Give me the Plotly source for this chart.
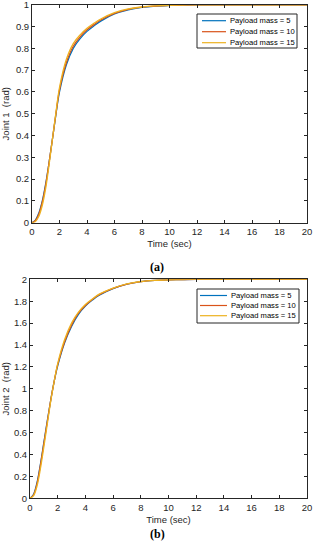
import plotly.graph_objects as go

# ---- data ----
t = [0, 0.25, 0.5, 0.75, 1, 1.25, 1.5, 1.75, 2, 2.5, 3, 3.5, 4, 4.5, 5, 6, 7, 8, 9, 10, 11, 12, 14, 16, 18, 20]

j1_m5  = [0, 0.012, 0.045, 0.10, 0.18, 0.28, 0.39, 0.50, 0.60, 0.725, 0.80, 0.845, 0.878, 0.903, 0.925, 0.958, 0.977, 0.988, 0.994, 0.997, 0.999, 1, 1, 1, 1, 1]
j1_m10 = [0, 0.010, 0.040, 0.095, 0.175, 0.28, 0.39, 0.505, 0.61, 0.735, 0.81, 0.853, 0.885, 0.909, 0.930, 0.961, 0.979, 0.989, 0.994, 0.997, 0.999, 1, 1, 1, 1, 1]
j1_m15 = [0, 0.006, 0.030, 0.080, 0.160, 0.27, 0.39, 0.51, 0.62, 0.75, 0.822, 0.862, 0.892, 0.915, 0.935, 0.964, 0.981, 0.990, 0.995, 0.998, 0.999, 1, 1, 1, 1, 1]

j2_m5  = [0, 0.035, 0.14, 0.31, 0.51, 0.71, 0.90, 1.07, 1.21, 1.42, 1.57, 1.68, 1.755, 1.81, 1.855, 1.915, 1.955, 1.978, 1.99, 1.995, 1.998, 2, 2, 2, 2, 2]
j2_m10 = [0, 0.030, 0.13, 0.30, 0.50, 0.70, 0.90, 1.07, 1.22, 1.43, 1.58, 1.69, 1.76, 1.815, 1.86, 1.918, 1.957, 1.979, 1.99, 1.995, 1.998, 2, 2, 2, 2, 2]
j2_m15 = [0, 0.022, 0.11, 0.27, 0.47, 0.68, 0.89, 1.07, 1.23, 1.45, 1.60, 1.70, 1.77, 1.82, 1.865, 1.92, 1.958, 1.98, 1.991, 1.996, 1.998, 2, 2, 2, 2, 2]

labels = ["Payload mass = 5", "Payload mass = 10", "Payload mass = 15"]
colors = ["#0072BD", "#D95319", "#EDB120"]
x_ticks = [0, 2, 4, 6, 8, 10, 12, 14, 16, 18, 20]
y1_ticks = [0, 0.1, 0.2, 0.3, 0.4, 0.5, 0.6, 0.7, 0.8, 0.9, 1]
y1_text = ["0", "0.1", "0.2", "0.3", "0.4", "0.5", "0.6", "0.7", "0.8", "0.9", "1"]
y2_ticks = [0, 0.2, 0.4, 0.6, 0.8, 1, 1.2, 1.4, 1.6, 1.8, 2]
y2_text = ["0", "0.2", "0.4", "0.6", "0.8", "1", "1.2", "1.4", "1.6", "1.8", "2"]

W, H = 314, 550
fig = go.Figure()

for ys, lab, c in zip([j1_m5, j1_m10, j1_m15], labels, colors):
    fig.add_trace(go.Scatter(x=t, y=ys, mode="lines", name=lab, line=dict(color=c, width=1.3, shape="spline"),
                             xaxis="x", yaxis="y", showlegend=False))
for ys, lab, c in zip([j2_m5, j2_m10, j2_m15], labels, colors):
    fig.add_trace(go.Scatter(x=t, y=ys, mode="lines", name=lab, line=dict(color=c, width=1.3, shape="spline"),
                             xaxis="x2", yaxis="y2", showlegend=False))

axcol = "#262626"
FONT = "Liberation Sans, Arial"
tickfont = dict(family=FONT, size=9.5, color=axcol)
common_x = dict(range=[0, 20], tickvals=x_ticks, showgrid=False, zeroline=False, showline=True, linecolor=axcol,
                linewidth=1, mirror="ticks", ticks="inside", ticklen=3, tickcolor=axcol, tickfont=tickfont,
                automargin=False, ticklabeloverflow="allow",
                title=dict(text="Time (sec)", font=dict(family=FONT, size=9.5, color=axcol), standoff=4))
common_y = dict(showgrid=False, zeroline=False, showline=True, linecolor=axcol, linewidth=1, mirror="ticks",
                ticks="inside", ticklen=3, tickcolor=axcol, tickfont=tickfont, automargin=False,
                ticklabeloverflow="allow")

top_dom = [(H - 222.7) / H, (H - 4.8) / H]
bot_dom = [(H - 498.3) / H, (H - 279.3) / H]

fig.update_layout(
    width=W, height=H, margin=dict(l=0, r=0, t=0, b=0),
    paper_bgcolor="white", plot_bgcolor="white", showlegend=False,
    xaxis=dict(domain=[32 / W, 307 / W], anchor="y", **common_x),
    yaxis=dict(domain=top_dom, anchor="x", range=[0, 1], tickvals=y1_ticks, ticktext=y1_text,
               title=dict(text="Joint 1  (rad)", font=dict(family=FONT, size=9.5, color=axcol)),
               **common_y),
    xaxis2=dict(domain=[30 / W, 307 / W], anchor="y2", **common_x),
    yaxis2=dict(domain=bot_dom, anchor="x2", range=[0, 2], tickvals=y2_ticks, ticktext=y2_text,
                title=dict(text="Joint 2  (rad)", font=dict(family=FONT, size=9.5, color=axcol)),
                **common_y),
)

# manual MATLAB-style legends (box, sample lines, labels) in pixel-derived paper coords
def px(x):
    return x / W

def py(y):
    return (H - y) / H

def add_legend(box, rows, line_x, text_x):
    x0, y0, x1, y1 = box
    fig.add_shape(type="rect", xref="paper", yref="paper", x0=px(x0), x1=px(x1), y0=py(y1), y1=py(y0),
                  line=dict(color=axcol, width=1), fillcolor="white", layer="above")
    for yy, lab, c in zip(rows, labels, colors):
        fig.add_shape(type="line", xref="paper", yref="paper", x0=px(line_x[0]), x1=px(line_x[1]),
                      y0=py(yy), y1=py(yy), line=dict(color=c, width=1.2), layer="above")
        fig.add_annotation(text=lab, x=px(text_x), y=py(yy), xref="paper", yref="paper", xanchor="left",
                           yanchor="middle", showarrow=False,
                           font=dict(family=FONT, size=7.6, color="#000000"))

add_legend((197, 14, 297, 48), [20.7, 31.7, 42.7], (202, 226), 228)
add_legend((197, 289, 299, 323), [295.5, 305.5, 315.7], (200, 227), 229)

fig.add_annotation(text="<b>(a)</b>", x=px(157), y=py(267), xref="paper", yref="paper", showarrow=False,
                   font=dict(family="Liberation Serif, Times New Roman", size=12, color="#000000"))
fig.add_annotation(text="<b>(b)</b>", x=px(157), y=py(543), xref="paper", yref="paper", showarrow=False,
                   font=dict(family="Liberation Serif, Times New Roman", size=12, color="#000000"))

fig.write_html("out.html", config={"displayModeBar": False},
               post_script="document.body.style.margin='0';document.body.style.overflow='hidden';")
